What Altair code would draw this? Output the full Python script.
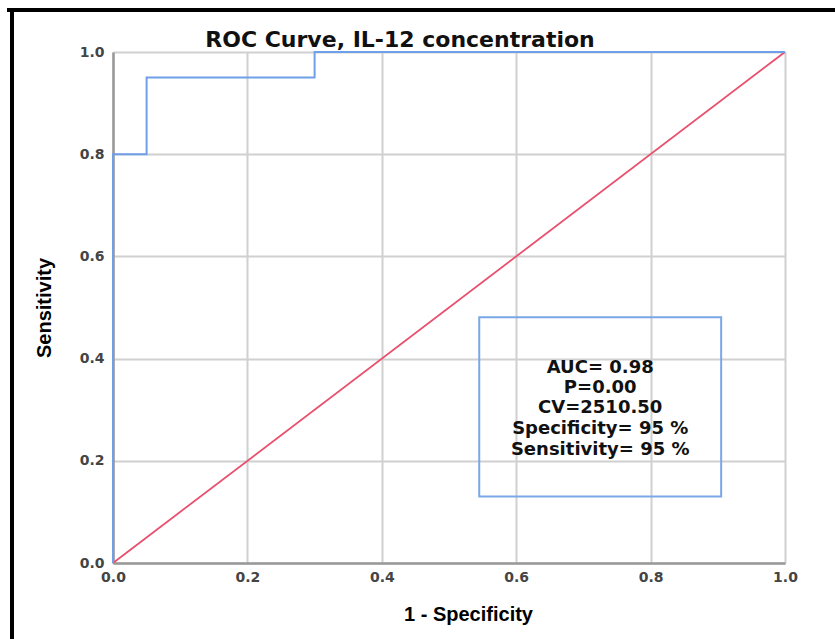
import altair as alt
import pandas as pd

# ROC step curve
roc_fpr = [0.0, 0.0, 0.05, 0.05, 0.30, 0.30, 1.0]
roc_tpr = [0.0, 0.80, 0.80, 0.95, 0.95, 1.0, 1.0]
# reference diagonal
diag_x = [0.0, 1.0]
diag_y = [0.0, 1.0]
# annotation box
box_x = [0.545]
box_x2 = [0.905]
box_y = [0.13]
box_y2 = [0.481]
box_lines = ["AUC= 0.98", "P=0.00", "CV=2510.50", "Specificity= 95 %", "Sensitivity= 95 %"]
box_line_y = [0.381, 0.342, 0.303, 0.262, 0.222]
ticks = [0.0, 0.2, 0.4, 0.6, 0.8, 1.0]

FONT = "Liberation Sans"
WIDE = "DejaVu Sans"

roc_df = pd.DataFrame({"x": roc_fpr, "y": roc_tpr, "o": list(range(len(roc_fpr)))})
diag_df = pd.DataFrame({"x": diag_x, "y": diag_y})
box_df = pd.DataFrame({"x": box_x, "x2": box_x2, "y": box_y, "y2": box_y2})
txt_df = pd.DataFrame({"t": box_lines, "y": box_line_y, "x": [(box_x[0] + box_x2[0]) / 2] * len(box_lines)})

xs = alt.Scale(domain=[0, 1], nice=False, zero=False)
ys = alt.Scale(domain=[0, 1], nice=False, zero=False)

xaxis = alt.Axis(values=ticks, format=".1f", title="1 - Specificity", grid=True,
                 gridColor="#d0d0d0", gridWidth=2, domainColor="#999999", domainWidth=2.5,
                 ticks=False, labelFlush=False, labelFont=WIDE, labelFontSize=14,
                 labelFontWeight="bold", labelColor="#444444", labelPadding=7,
                 titleFont=FONT, titleFontSize=20, titleFontWeight="bold",
                 titleColor="#000000", titlePadding=20, titleX=355, titleAlign="center")
yaxis = alt.Axis(values=ticks, format=".1f", title="Sensitivity", grid=True,
                 gridColor="#d0d0d0", gridWidth=2, domainColor="#999999", domainWidth=2.5,
                 ticks=False, labelFlush=False, labelFont=WIDE, labelFontSize=14,
                 labelFontWeight="bold", labelColor="#444444", labelPadding=9,
                 titleFont=FONT, titleFontSize=20, titleFontWeight="bold",
                 titleColor="#000000", titlePadding=25)

diag = alt.Chart(diag_df).mark_line(color="#e8506e", strokeWidth=1.8).encode(
    x=alt.X("x:Q", scale=xs, axis=xaxis),
    y=alt.Y("y:Q", scale=ys, axis=yaxis),
)
roc = alt.Chart(roc_df).mark_line(color="#6f9fe8", strokeWidth=2).encode(
    x=alt.X("x:Q", scale=xs),
    y=alt.Y("y:Q", scale=ys),
    order="o:Q",
)
box = alt.Chart(box_df).mark_rect(fill=None, fillOpacity=0, stroke="#7aa7e8", strokeWidth=2).encode(
    x="x:Q", x2="x2:Q", y="y:Q", y2="y2:Q"
)
txt = alt.Chart(txt_df).mark_text(font=WIDE, fontSize=18, fontWeight="bold", color="#111111",
                                  align="center", baseline="middle").encode(
    x="x:Q", y="y:Q", text="t:N"
)
title = alt.Chart(pd.DataFrame({"t": ["ROC Curve, IL-12 concentration"]})).mark_text(
    font=WIDE, fontSize=22, fontWeight="bold", color="#111111", align="center", baseline="middle"
).encode(x=alt.value(287), y=alt.value(-12), text="t:N")

frame_top = alt.Chart(pd.DataFrame({"a": [0]})).mark_rule(color="#000000", strokeWidth=4).encode(
    x=alt.value(-106), x2=alt.value(730), y=alt.value(-42)
)
frame_left = alt.Chart(pd.DataFrame({"a": [0]})).mark_rule(color="#000000", strokeWidth=4).encode(
    x=alt.value(-101), y=alt.value(-44), y2=alt.value(600)
)

chart = alt.layer(diag, roc, box, txt, title, frame_top, frame_left).properties(
    width=672, height=511,
    padding={"left": 113, "top": 52, "right": 50, "bottom": 76},
    autosize=alt.AutoSizeParams(type="none"),
    background="#ffffff",
).configure_view(stroke=None)

chart.save("out.html", embed_options={"renderer": "svg", "actions": False})
